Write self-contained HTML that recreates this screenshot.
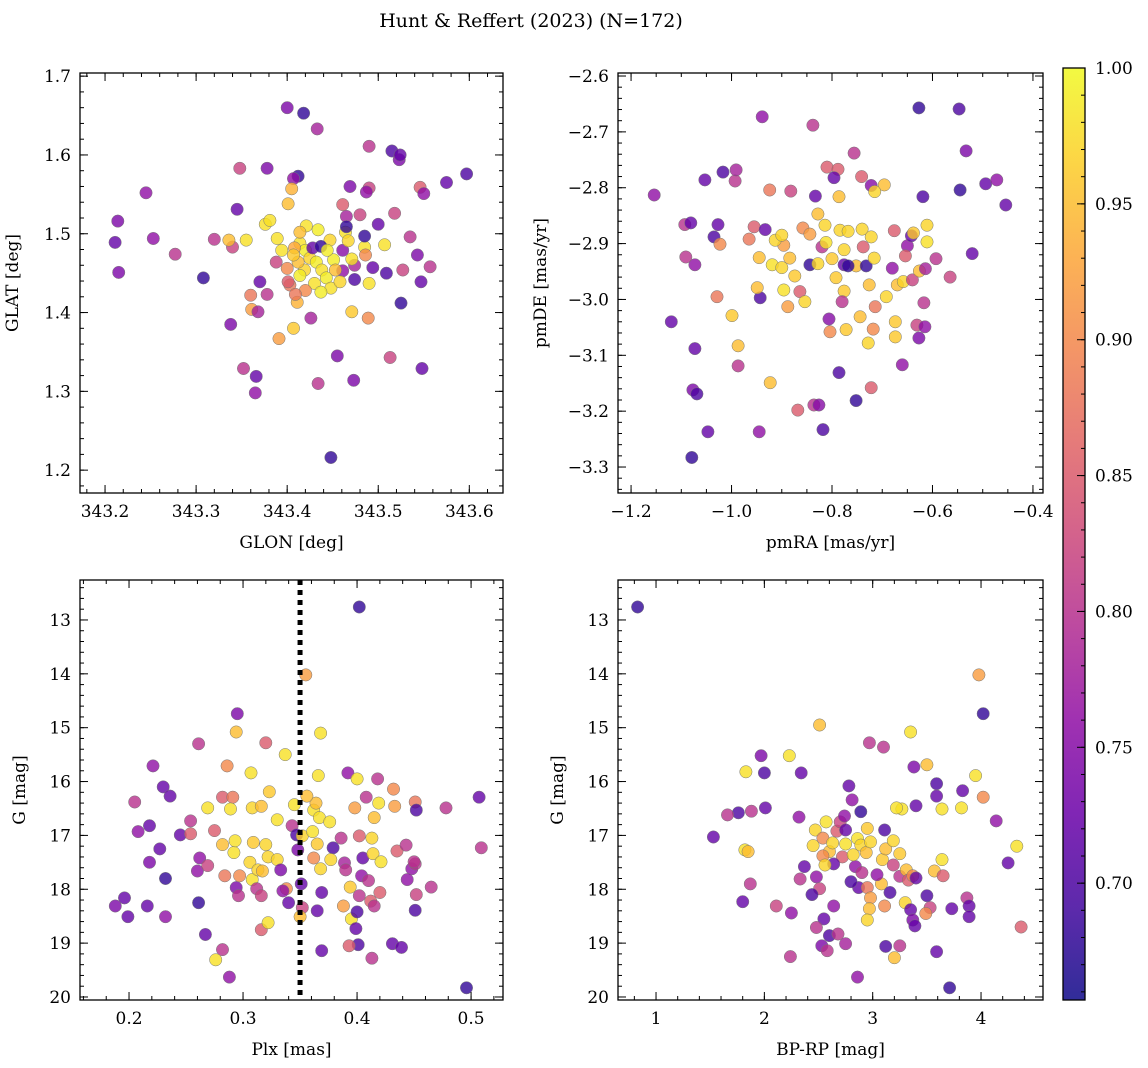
<!DOCTYPE html>
<html><head><meta charset="utf-8">
<style>
html,body{margin:0;padding:0;background:#fff;}
svg{display:block;font-family:"DejaVu Serif","Liberation Serif",serif;}
</style></head>
<body>
<svg id="fig" width="1148" height="1068" viewBox="0 0 1148 1068" xmlns="http://www.w3.org/2000/svg">
<defs>
<linearGradient id="plasma" x1="0" y1="1" x2="0" y2="0">
<stop offset="0" stop-color="#0d0887"/><stop offset="0.1" stop-color="#41049d"/><stop offset="0.2" stop-color="#6a00a8"/><stop offset="0.3" stop-color="#8f0da4"/><stop offset="0.4" stop-color="#b12a90"/><stop offset="0.5" stop-color="#cc4778"/><stop offset="0.6" stop-color="#e16462"/><stop offset="0.7" stop-color="#f2844b"/><stop offset="0.8" stop-color="#fca636"/><stop offset="0.9" stop-color="#fcce25"/><stop offset="1" stop-color="#f0f921"/>
</linearGradient>
</defs>
<text x="531" y="27" font-size="19" text-anchor="middle">Hunt &amp; Reffert (2023) (N=172)</text>
</svg>
<script>
// ---- data ----
const p1Lon=[343.40,343.418,343.433,343.412,343.407,343.348,343.378,343.245,343.214,343.211,343.215,343.253,343.277,343.308,343.338,343.352,343.366,343.365,343.345,343.320,343.340,343.336,343.355,343.360,343.361,343.368,343.391,343.370,343.376,343.381,343.378,343.407,343.403,343.411,343.401,343.405,343.434,343.448,343.455,343.473,343.426,343.471,343.474,343.461,343.474,343.465,343.480,343.464,343.461,343.465,343.485,343.471,343.490,343.490,343.487,343.469,343.486,343.494,343.485,343.500,343.490,343.489,343.515,343.523,343.524,343.518,343.525,343.513,343.507,343.509,343.527,343.535,343.546,343.550,343.548,343.547,343.543,343.557,343.575,343.597,343.414,343.420,343.425,343.432,343.438,343.443,343.430,343.419,343.412,343.400,343.408,343.421,343.434,343.447,343.451,343.448,343.437,343.458,343.420,343.409,343.401,343.428,343.437,343.407,343.453,343.444,343.414,343.461,343.467,343.394,343.388,343.414,343.389];
const p1Lat=[1.66,1.653,1.633,1.573,1.570,1.583,1.583,1.552,1.516,1.489,1.451,1.494,1.474,1.444,1.385,1.329,1.319,1.298,1.531,1.493,1.483,1.492,1.492,1.422,1.404,1.401,1.367,1.439,1.512,1.517,1.423,1.380,1.435,1.413,1.538,1.557,1.310,1.216,1.345,1.314,1.393,1.401,1.460,1.453,1.442,1.522,1.524,1.502,1.537,1.509,1.483,1.468,1.611,1.558,1.553,1.560,1.473,1.457,1.497,1.512,1.437,1.393,1.605,1.594,1.600,1.526,1.412,1.343,1.486,1.450,1.454,1.496,1.559,1.551,1.329,1.439,1.473,1.458,1.565,1.576,1.488,1.479,1.469,1.464,1.454,1.444,1.437,1.454,1.464,1.456,1.482,1.510,1.505,1.492,1.467,1.431,1.426,1.439,1.428,1.423,1.439,1.482,1.484,1.473,1.454,1.479,1.447,1.479,1.491,1.479,1.464,1.502,1.494];
const p1Prob=[0.74,0.68,0.78,0.68,0.76,0.82,0.74,0.76,0.74,0.72,0.74,0.76,0.80,0.68,0.74,0.80,0.72,0.76,0.72,0.80,0.82,0.95,0.98,0.88,0.92,0.78,0.92,0.72,0.98,0.98,0.80,0.96,0.88,0.94,0.95,0.94,0.80,0.68,0.74,0.74,0.78,0.96,0.78,0.76,0.70,0.78,0.82,0.98,0.85,0.68,0.98,0.98,0.80,0.82,0.76,0.74,0.90,0.72,0.68,0.72,0.98,0.90,0.70,0.74,0.72,0.82,0.68,0.82,0.98,0.70,0.82,0.80,0.85,0.76,0.72,0.72,0.74,0.80,0.72,0.70,0.98,0.99,0.97,0.99,0.98,0.99,0.98,0.97,0.95,0.90,0.93,0.98,0.99,0.97,0.99,0.98,0.99,0.97,0.90,0.88,0.85,0.72,0.68,0.96,0.95,0.99,0.99,0.75,0.97,0.98,0.82,0.95,0.98];

const p2RA=[-0.627,-0.547,-0.939,-0.838,-0.533,-0.494,-0.472,-0.454,-0.545,-0.619,-0.756,-0.810,-0.788,-0.741,-0.722,-0.696,-0.715,-0.786,-0.796,-0.833,-0.882,-0.924,-0.993,-1.053,-1.017,-0.991,-1.154,-1.093,-1.081,-1.027,-1.035,-1.023,-1.073,-1.091,-1.029,-0.999,-1.120,-1.073,-0.987,-0.987,-1.077,-1.069,-1.047,-1.079,-0.945,-0.923,-0.868,-0.836,-0.826,-0.818,-0.786,-0.752,-0.722,-0.943,-0.949,-0.955,-0.933,-0.965,-0.919,-0.900,-0.884,-0.874,-0.896,-0.888,-0.864,-0.854,-0.844,-0.820,-0.812,-0.800,-0.828,-0.828,-0.814,-0.858,-0.844,-0.784,-0.768,-0.776,-0.792,-0.776,-0.752,-0.780,-0.806,-0.804,-0.772,-0.728,-0.744,-0.776,-0.768,-0.732,-0.738,-0.740,-0.722,-0.716,-0.726,-0.692,-0.714,-0.718,-0.674,-0.676,-0.650,-0.642,-0.654,-0.680,-0.670,-0.658,-0.640,-0.626,-0.614,-0.611,-0.611,-0.638,-0.617,-0.631,-0.615,-0.674,-0.627,-0.660,-0.593,-0.565,-0.521,-0.896,-0.913,-0.945,-0.900];
const p2DE=[-2.657,-2.659,-2.673,-2.688,-2.734,-2.793,-2.786,-2.831,-2.804,-2.816,-2.738,-2.763,-2.767,-2.780,-2.796,-2.795,-2.807,-2.816,-2.782,-2.815,-2.806,-2.804,-2.788,-2.786,-2.772,-2.768,-2.813,-2.866,-2.863,-2.866,-2.888,-2.901,-2.938,-2.924,-2.995,-3.029,-3.040,-3.088,-3.083,-3.119,-3.162,-3.169,-3.237,-3.283,-3.237,-3.149,-3.198,-3.189,-3.189,-3.233,-3.131,-3.181,-3.158,-2.997,-2.979,-2.870,-2.875,-2.892,-2.938,-2.943,-2.926,-2.958,-2.983,-3.013,-2.986,-3.004,-2.938,-2.906,-2.898,-2.927,-2.936,-2.847,-2.867,-2.872,-2.883,-2.876,-2.878,-2.911,-2.961,-2.985,-2.940,-3.004,-3.035,-3.058,-3.054,-3.078,-3.031,-2.938,-2.940,-2.940,-2.906,-2.874,-2.888,-2.926,-2.974,-2.995,-3.013,-3.053,-3.040,-2.877,-2.904,-2.886,-2.922,-2.944,-2.974,-2.968,-2.965,-2.949,-2.945,-2.897,-2.867,-2.881,-3.006,-3.046,-3.049,-3.067,-3.069,-3.117,-2.927,-2.960,-2.918,-2.903,-2.894,-2.925,-2.885];
const p2Prob=[0.68,0.70,0.76,0.80,0.74,0.72,0.76,0.72,0.68,0.70,0.80,0.85,0.85,0.85,0.75,0.95,0.97,0.95,0.72,0.72,0.82,0.88,0.80,0.72,0.70,0.78,0.76,0.80,0.72,0.72,0.70,0.90,0.76,0.80,0.88,0.96,0.72,0.72,0.95,0.80,0.74,0.70,0.72,0.68,0.76,0.95,0.85,0.80,0.75,0.70,0.70,0.68,0.85,0.70,0.95,0.85,0.72,0.88,0.98,0.97,0.95,0.96,0.98,0.92,0.85,0.97,0.68,0.80,0.98,0.96,0.97,0.95,0.97,0.90,0.92,0.97,0.97,0.97,0.96,0.96,0.95,0.80,0.75,0.90,0.96,0.97,0.95,0.72,0.68,0.68,0.85,0.97,0.97,0.97,0.95,0.97,0.88,0.90,0.96,0.85,0.76,0.72,0.85,0.76,0.95,0.97,0.82,0.95,0.78,0.98,0.97,0.96,0.80,0.82,0.76,0.96,0.74,0.76,0.80,0.82,0.72,0.92,0.97,0.95,0.97];

const p3Plx=[0.402,0.355,0.295,0.294,0.368,0.261,0.320,0.221,0.286,0.337,0.307,0.392,0.400,0.366,0.418,0.230,0.236,0.208,0.205,0.282,0.291,0.269,0.308,0.289,0.316,0.323,0.345,0.362,0.364,0.356,0.398,0.408,0.419,0.432,0.433,0.451,0.452,0.478,0.507,0.509,0.218,0.227,0.245,0.218,0.232,0.196,0.188,0.199,0.216,0.232,0.254,0.254,0.260,0.262,0.269,0.261,0.267,0.282,0.288,0.276,0.275,0.282,0.284,0.294,0.292,0.293,0.297,0.296,0.306,0.308,0.312,0.313,0.309,0.316,0.316,0.322,0.320,0.322,0.317,0.330,0.333,0.338,0.335,0.340,0.330,0.343,0.347,0.348,0.352,0.351,0.352,0.350,0.367,0.361,0.365,0.362,0.368,0.369,0.365,0.369,0.379,0.376,0.377,0.386,0.389,0.390,0.394,0.388,0.395,0.402,0.400,0.399,0.401,0.393,0.404,0.405,0.402,0.415,0.413,0.414,0.421,0.410,0.412,0.415,0.413,0.431,0.435,0.443,0.439,0.448,0.444,0.451,0.450,0.452,0.451,0.465,0.496,0.420];
const p3G=[12.76,14.02,14.74,15.08,15.10,15.30,15.28,15.71,15.71,15.50,15.84,15.84,15.95,15.89,15.95,16.10,16.27,16.93,16.38,16.29,16.29,16.49,16.49,16.51,16.46,16.19,16.43,16.53,16.40,16.27,16.49,16.29,16.40,16.14,16.46,16.38,16.53,16.49,16.29,17.23,16.82,17.25,16.99,17.50,17.80,18.16,18.31,18.51,18.31,18.51,16.97,16.73,17.66,17.42,17.56,18.25,18.84,19.12,19.63,19.31,16.91,17.17,17.75,17.97,17.32,17.10,17.75,18.12,17.50,17.82,17.99,17.64,17.13,18.12,18.75,18.62,17.17,17.40,17.66,17.45,17.64,17.99,18.03,18.25,16.71,16.82,16.99,17.27,17.01,17.90,18.34,18.51,16.67,16.93,17.16,17.42,17.62,18.06,18.40,19.14,17.23,16.75,17.45,17.05,17.51,17.64,17.96,18.31,18.55,18.12,18.42,18.73,19.03,19.05,17.75,17.42,17.01,16.67,17.05,17.34,17.49,17.84,18.22,18.31,19.28,19.01,17.29,17.18,19.08,17.62,17.82,17.53,17.49,18.10,18.39,17.96,19.83,18.06];
const p3Prob=[0.68,0.92,0.74,0.95,0.98,0.80,0.85,0.76,0.90,0.98,0.98,0.76,0.98,0.98,0.80,0.72,0.72,0.76,0.80,0.85,0.88,0.98,0.97,0.98,0.95,0.96,0.98,0.98,0.95,0.95,0.92,0.80,0.98,0.90,0.92,0.88,0.70,0.80,0.72,0.80,0.72,0.72,0.72,0.74,0.68,0.72,0.74,0.72,0.72,0.76,0.85,0.80,0.76,0.76,0.82,0.68,0.72,0.80,0.76,0.98,0.85,0.95,0.88,0.74,0.98,0.98,0.90,0.80,0.97,0.98,0.80,0.97,0.96,0.82,0.85,0.98,0.97,0.97,0.95,0.97,0.74,0.90,0.76,0.72,0.98,0.80,0.70,0.74,0.97,0.72,0.82,0.95,0.98,0.98,0.96,0.90,0.97,0.72,0.72,0.72,0.70,0.98,0.97,0.80,0.78,0.80,0.96,0.92,0.98,0.80,0.70,0.72,0.70,0.85,0.76,0.72,0.85,0.95,0.97,0.97,0.98,0.80,0.85,0.80,0.80,0.72,0.85,0.80,0.72,0.76,0.76,0.80,0.80,0.82,0.70,0.80,0.68,0.85];

const p4BPRP=[0.83,3.98,4.02,2.51,2.97,3.10,3.35,1.97,2.23,1.83,2.00,2.34,3.38,3.50,3.95,4.02,3.83,3.59,3.59,3.64,3.82,3.40,3.27,3.22,2.78,2.81,2.89,2.57,2.32,2.01,1.88,1.76,1.66,1.53,1.82,1.85,1.80,1.87,2.11,2.25,2.24,2.33,2.37,2.45,2.47,2.54,2.60,2.63,2.67,2.70,2.74,2.75,2.75,2.72,2.64,2.54,2.56,2.48,2.51,2.44,2.55,2.53,2.48,2.60,2.68,2.64,2.58,2.75,2.86,2.84,2.82,2.86,2.89,2.94,2.98,2.95,2.90,2.87,2.80,2.95,2.98,2.97,2.95,3.08,3.04,3.09,3.12,3.11,3.19,3.25,3.19,3.25,3.31,3.33,3.37,3.40,3.16,3.11,3.30,3.35,3.37,3.39,3.20,3.12,3.25,3.53,3.49,3.50,3.57,3.64,3.65,3.73,3.59,3.71,3.87,3.89,3.89,4.14,4.25,4.33,4.37];
const p4G=[12.76,14.02,14.74,14.95,15.28,15.36,15.08,15.52,15.52,15.82,15.84,15.84,15.73,15.69,15.89,16.29,16.17,16.04,16.27,16.51,16.49,16.45,16.51,16.49,16.08,16.34,16.56,16.75,16.66,16.49,16.55,16.58,16.62,17.03,17.27,17.30,18.23,17.90,18.31,18.44,19.25,17.81,17.58,17.19,16.90,17.05,17.30,17.14,16.92,16.75,16.64,16.90,17.16,17.40,17.53,17.38,17.55,17.77,17.99,18.10,18.55,19.05,18.71,18.86,18.83,18.31,19.14,19.01,19.63,17.58,17.36,17.06,17.18,17.32,17.12,16.87,17.69,17.97,17.86,17.97,18.16,18.36,18.57,17.90,17.73,17.45,17.25,16.90,17.10,17.34,17.55,17.76,17.64,17.83,17.75,17.79,18.06,18.31,18.25,18.38,18.57,18.68,19.27,19.06,19.05,18.34,18.45,18.12,17.66,17.45,17.75,18.36,19.16,19.83,18.16,18.31,18.51,16.73,17.51,17.20,18.70];
const p4Prob=[0.68,0.92,0.68,0.95,0.80,0.80,0.98,0.74,0.98,0.98,0.70,0.72,0.74,0.95,0.98,0.90,0.72,0.70,0.72,0.98,0.98,0.72,0.98,0.98,0.72,0.76,0.68,0.98,0.76,0.72,0.80,0.70,0.80,0.72,0.98,0.95,0.72,0.80,0.82,0.76,0.80,0.80,0.72,0.97,0.97,0.90,0.95,0.97,0.85,0.82,0.76,0.72,0.98,0.85,0.72,0.90,0.97,0.76,0.82,0.70,0.72,0.74,0.80,0.70,0.80,0.76,0.80,0.78,0.76,0.76,0.97,0.98,0.97,0.95,0.97,0.96,0.80,0.72,0.70,0.88,0.92,0.95,0.97,0.95,0.76,0.96,0.95,0.70,0.97,0.96,0.82,0.80,0.95,0.85,0.90,0.72,0.70,0.90,0.97,0.72,0.74,0.72,0.95,0.70,0.80,0.82,0.90,0.70,0.95,0.98,0.85,0.72,0.72,0.68,0.80,0.72,0.72,0.76,0.72,0.98,0.85];

const cbTicks=[0.70,0.75,0.80,0.85,0.90,0.95,1.00];
const plxCut=[0.35];

// ---- helpers ----
const NS="http://www.w3.org/2000/svg";
const svg=document.getElementById('fig');
const CMIN=0.657, CMAX=1.0;
const stops=[[13,8,135],[65,4,157],[106,0,168],[143,13,164],[177,42,144],[204,71,120],[225,100,98],[242,132,75],[252,166,54],[252,206,37],[240,249,33]];
function cmap(v){let t=(v-CMIN)/(CMAX-CMIN);t=Math.max(0,Math.min(1,t))*10;const i=Math.min(9,Math.floor(t)),f=t-i;const a=stops[i],b=stops[i+1];return 'rgb('+a.map((x,k)=>Math.round(x+(b[k]-x)*f)).join(',')+')';}
function mk(tag,attrs,parent){const e=document.createElementNS(NS,tag);for(const k in attrs)e.setAttribute(k,attrs[k]);(parent||svg).appendChild(e);return e;}
function fmt(v,d){const s=Math.abs(v).toFixed(d);return (v<-1e-9?'\u2212':'')+s;}

function panel(c){
  const g=mk('g',{});
  
  
  const sx=v=>c.L+(v-c.xmin)/(c.xmax-c.xmin)*(c.R-c.L);
  const sy=c.inv?(v=>c.T+(v-c.ymin)/(c.ymax-c.ymin)*(c.B-c.T)):(v=>c.B-(v-c.ymin)/(c.ymax-c.ymin)*(c.B-c.T));
  const clip='clip-'+c.name;
  const cp=mk('clipPath',{id:clip},g);mk('rect',{x:c.L,y:c.T,width:c.R-c.L,height:c.B-c.T},cp);
  const pg=mk('g',{'clip-path':'url(#'+clip+')'},g);
  for(let i=0;i<c.xs.length;i++){
    const p=mk('circle',{cx:sx(c.xs[i]).toFixed(1),cy:sy(c.ys[i]).toFixed(1),r:6.2,fill:cmap(c.cs[i]),'fill-opacity':0.8,stroke:'#777','stroke-width':0.5},pg);
    
    
  }
  if(c.vline){for(const v of c.vline){
    const l=mk('line',{x1:sx(v),x2:sx(v),y1:c.T,y2:c.B,stroke:'#000','stroke-width':5,'stroke-dasharray':'5,5'},pg);
    
    
  }}
  // ticks
  const tg=mk('g',{stroke:'#000','stroke-width':1},g);
  const eps=1e-9;
  for(let v=Math.ceil(c.xmin/c.xmi-eps)*c.xmi;v<=c.xmax+eps;v+=c.xmi){const x=sx(v);mk('line',{x1:x,x2:x,y1:c.B,y2:c.B-4},tg);mk('line',{x1:x,x2:x,y1:c.T,y2:c.T+4},tg);}
  for(let v=Math.ceil(c.ymin/c.ymi-eps)*c.ymi;v<=c.ymax+eps;v+=c.ymi){const y=sy(v);mk('line',{x1:c.L,x2:c.L+4,y1:y,y2:y},tg);mk('line',{x1:c.R,x2:c.R-4,y1:y,y2:y},tg);}
  for(const v of c.xt){const x=sx(v);mk('line',{x1:x,x2:x,y1:c.B,y2:c.B-8},tg);mk('line',{x1:x,x2:x,y1:c.T,y2:c.T+8},tg);
    const t=mk('text',{x:x,y:c.B+24,'font-size':17,'text-anchor':'middle'},g);t.textContent=fmt(v,c.xd);
    
    }
  for(const v of c.yt){const y=sy(v);mk('line',{x1:c.L,x2:c.L+8,y1:y,y2:y},tg);mk('line',{x1:c.R,x2:c.R-8,y1:y,y2:y},tg);
    const t=mk('text',{x:c.L-9,y:y+6,'font-size':17,'text-anchor':'end'},g);t.textContent=fmt(v,c.yd);
    
    }
  const fr=mk('rect',{x:c.L,y:c.T,width:c.R-c.L,height:c.B-c.T,fill:'none',stroke:'#000','stroke-width':1.3},g);
  
  
  const xl=mk('text',{x:(c.L+c.R)/2,y:c.B+55,'font-size':17,'text-anchor':'middle'},g);xl.textContent=c.xlabel;
  
  
  const yx=c.L-c.ylo, yy=(c.T+c.B)/2;
  const yl=mk('text',{x:yx,y:yy,'font-size':17,'text-anchor':'middle',transform:'rotate(-90 '+yx+' '+yy+')'},g);yl.textContent=c.ylabel;
  
  
}
const rng=(a,b,s)=>{const r=[];for(let v=a;v<=b+1e-9;v+=s)r.push(Math.round(v*1000)/1000);return r;};

panel({name:'glon-glat-panel',L:80,R:503,T:73,B:493,xmin:343.1725,xmax:343.637,ymin:1.171,ymax:1.704,xt:rng(343.2,343.6,0.1),xd:1,xmi:0.02,yt:rng(1.2,1.7,0.1),yd:1,ymi:0.02,xs:p1Lon,ys:p1Lat,cs:p1Prob,xlabel:'GLON [deg]',ylabel:'GLAT [deg]',ylo:62});
panel({name:'proper-motion-panel',L:618,R:1043,T:73,B:493,xmin:-1.226,xmax:-0.380,ymin:-3.3465,ymax:-2.5946,xt:rng(-1.2,-0.4,0.2),xd:1,xmi:0.05,yt:rng(-3.3,-2.6,0.1),yd:1,ymi:0.02,xs:p2RA,ys:p2DE,cs:p2Prob,xlabel:'pmRA [mas/yr]',ylabel:'pmDE [mas/yr]',ylo:72});
panel({name:'plx-g-panel',L:80,R:503,T:580,B:1000,xmin:0.157,xmax:0.528,ymin:12.258,ymax:20.056,inv:true,xt:rng(0.2,0.5,0.1),xd:1,xmi:0.02,yt:rng(13,20,1),yd:0,ymi:0.2,xs:p3Plx,ys:p3G,cs:p3Prob,xlabel:'Plx [mas]',ylabel:'G [mag]',ylo:55,vline:plxCut});
panel({name:'cmd-panel',L:618,R:1043,T:580,B:1000,xmin:0.649,xmax:4.572,ymin:12.258,ymax:20.056,inv:true,xt:rng(1,4,1),xd:0,xmi:0.2,yt:rng(13,20,1),yd:0,ymi:0.2,xs:p4BPRP,ys:p4G,cs:p4Prob,xlabel:'BP-RP [mag]',ylabel:'G [mag]',ylo:55});

// colorbar
(function(){
  const L=1063,R=1085,T=68,B=1000;
  const g=mk('g',{});
  
  
  mk('rect',{x:L,y:T,width:R-L,height:B-T,fill:'url(#plasma)','fill-opacity':0.85},g);
  const sy=v=>B-(v-CMIN)/(CMAX-CMIN)*(B-T);
  for(let v=0.66;v<=1.0001;v+=0.01){const y=sy(v);mk('line',{x1:R,x2:R-4,y1:y,y2:y,stroke:'#000','stroke-width':1},g);}
  for(const v of cbTicks){const y=sy(v);mk('line',{x1:R,x2:R-8,y1:y,y2:y,stroke:'#000','stroke-width':1},g);
    const t=mk('text',{x:R+10,y:y+6,'font-size':17},g);t.textContent=v.toFixed(2);
    
    }
  mk('rect',{x:L,y:T,width:R-L,height:B-T,fill:'none',stroke:'#000','stroke-width':1.3},g);
})();
</script>
</body></html>
